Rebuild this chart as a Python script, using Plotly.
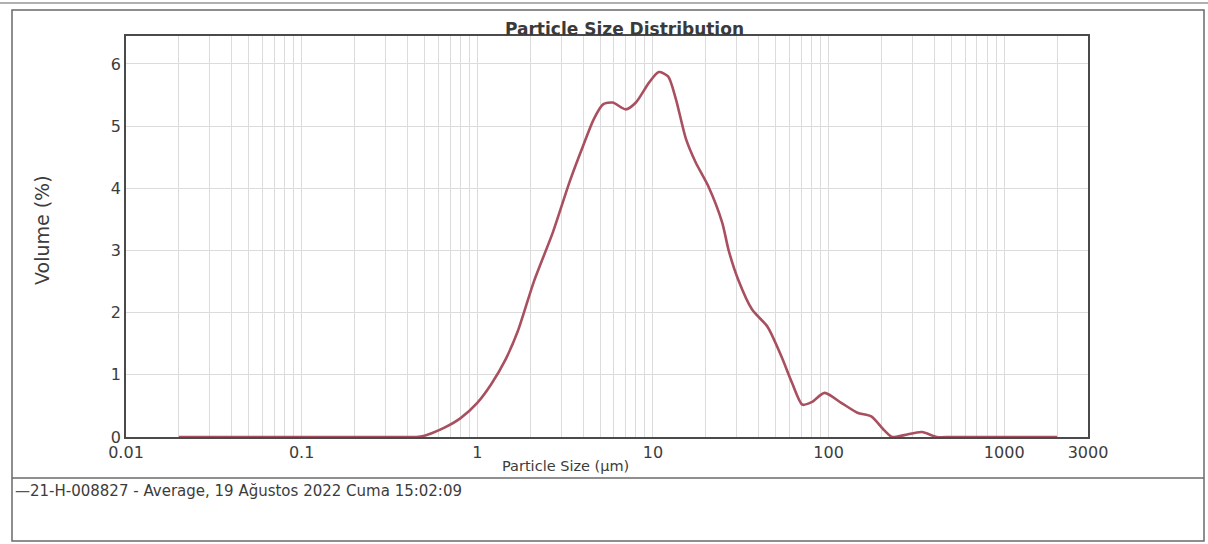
import numpy as np
import plotly.graph_objects as go

# ---- data ----
size_um = [0.02, 0.05, 0.1, 0.2, 0.3, 0.4, 0.45, 0.5, 0.55, 0.65, 0.8, 1.0, 1.2, 1.45,
           1.7, 2.1, 2.7, 3.35, 4.0, 4.6, 5.2, 5.9, 7.0, 8.0, 9.5, 10.8, 12.2, 13.5,
           15.4, 17.5, 20.7, 24.8, 27.0, 30.6, 36.7, 45.0, 54.0, 62.0, 71.0, 80.0,
           95.0, 118.0, 146.0, 175.0, 207.0, 230.0, 270.0, 340.0, 413.0, 500.0,
           1000.0, 2000.0]
volume_pct = [0, 0, 0, 0, 0, 0, 0.0, 0.02, 0.06, 0.15, 0.3, 0.55, 0.85, 1.25,
              1.7, 2.5, 3.3, 4.1, 4.68, 5.11, 5.35, 5.38, 5.27, 5.38, 5.7, 5.87, 5.8, 5.44,
              4.8, 4.42, 4.03, 3.45, 3.0, 2.53, 2.05, 1.77, 1.29, 0.87, 0.52, 0.56,
              0.71, 0.55, 0.39, 0.33, 0.11, 0.0, 0.03, 0.08, 0.0, 0.0,
              0.0, 0.0]
series_name = "21-H-008827 - Average, 19 Ağustos 2022 Cuma 15:02:09"

x_major_ticks = [0.01, 0.1, 1, 10, 100, 1000, 3000]
x_major_labels = ["0.01", "0.1", "1", "10", "100", "1000", "3000"]
y_ticks = [0, 1, 2, 3, 4, 5, 6]

chart_title = "Particle Size Distribution"
x_title = "Particle Size (µm)"
y_title = "Volume (%)"

# ---- layout geometry ----
W, H = 1208, 544
L, R, T, B = 126, 120, 36, 107
PW, PH = W - L - R, H - T - B


def px(x):
    return (x - L) / PW


def py(y):
    return (H - B - y) / PH


# grid values: all 1..9 multiples in each decade between 0.02 and 3000
grid_vals = []
grid_text = []
for dec in [0.01, 0.1, 1, 10, 100, 1000]:
    for m in range(1, 10):
        v = round(dec * m, 6)
        if v < 0.01 or v > 3000:
            continue
        grid_vals.append(v)
        if v in x_major_ticks:
            grid_text.append(x_major_labels[x_major_ticks.index(v)])
        else:
            grid_text.append("")

FONT = "DejaVu Sans, sans-serif"
TXT = "#3c3c3c"
LINE = "#a8505f"

fig = go.Figure()
fig.add_trace(go.Scatter(
    x=size_um, y=volume_pct, mode="lines", name=series_name,
    line=dict(color=LINE, width=2.6, shape="spline", smoothing=0.7),
    showlegend=False, hoverinfo="skip",
))

fig.update_layout(
    width=W, height=H,
    margin=dict(l=L, r=R, t=T, b=B),
    paper_bgcolor="white", plot_bgcolor="white",
    font=dict(family=FONT, color=TXT, size=16),
    xaxis=dict(
        type="log", range=[np.log10(0.01), np.log10(3000)],
        tickmode="array", tickvals=grid_vals, ticktext=grid_text,
        showgrid=True, gridcolor="#dcdcdc", gridwidth=1,
        showline=True, linecolor="#4a4a4a", linewidth=1.5, mirror=True,
        ticks="", zeroline=False, tickfont=dict(size=16, color=TXT),
    ),
    yaxis=dict(
        range=[0, 6.45], tickmode="array", tickvals=y_ticks,
        showgrid=True, gridcolor="#dcdcdc", gridwidth=1,
        showline=True, linecolor="#4a4a4a", linewidth=1.5, mirror=True,
        ticks="", zeroline=False, tickfont=dict(size=16, color=TXT),
    ),
)

# outer frame and separator line
fig.add_shape(type="rect", xref="paper", yref="paper",
              x0=px(12), x1=px(1204), y0=py(541), y1=py(10),
              line=dict(color="#6a6a6a", width=1.5), layer="below")
fig.add_shape(type="line", xref="paper", yref="paper",
              x0=px(12), x1=px(1204), y0=py(478), y1=py(478),
              line=dict(color="#6a6a6a", width=1.5))
fig.add_shape(type="line", xref="paper", yref="paper",
              x0=px(0), x1=px(1208), y0=py(3), y1=py(3),
              line=dict(color="#b0b0b0", width=2))

# texts
fig.add_annotation(text="<b>" + chart_title + "</b>", xref="paper", yref="paper",
                   x=px(624), y=py(29), showarrow=False, xanchor="center", yanchor="middle",
                   font=dict(size=17, color="#3a3a3a", family=FONT))
fig.add_annotation(text=x_title, xref="paper", yref="paper",
                   x=px(565), y=py(466), showarrow=False, xanchor="center", yanchor="middle",
                   font=dict(size=14.5, color=TXT, family=FONT))
fig.add_annotation(text=y_title, xref="paper", yref="paper",
                   x=px(42), y=py(230), showarrow=False, textangle=-90,
                   xanchor="center", yanchor="middle",
                   font=dict(size=19, color=TXT, family=FONT))
fig.add_annotation(text="<span style='color:#555'>—</span>" + series_name,
                   xref="paper", yref="paper",
                   x=px(13), y=py(491), showarrow=False, xanchor="left", yanchor="middle",
                   font=dict(size=15, color=TXT, family=FONT))

fig.write_html("out.html", config={"displayModeBar": False},
               post_script="document.body.style.margin='0';")
